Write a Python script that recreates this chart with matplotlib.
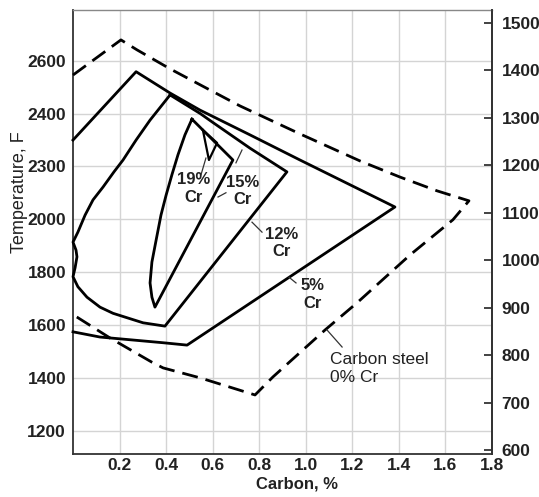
import matplotlib
matplotlib.use("Agg")
import matplotlib.pyplot as plt

# ---- data: carbon (%) vs temperature (deg C) ----
steel_c = [0.0, 0.206, 0.275, 0.417, 0.717, 0.975, 1.233, 1.405, 1.564, 1.701,
           1.632, 1.448, 1.220, 1.083, 0.859, 0.782, 0.546, 0.387, 0.339, 0.159, 0.017, 0.0]
steel_t = [1390, 1464, 1443, 1403, 1325, 1266, 1209, 1175, 1146, 1125,
           1085, 1011, 910, 853, 754, 716, 752, 773, 785, 836, 880, 885]

cr5_c = [0.0, 0.271, 0.417, 0.546, 0.760, 0.975, 1.383, 0.490, 0.387, 0.116, 0.0]
cr5_t = [1253, 1397, 1352, 1316, 1264, 1211, 1112, 821, 826, 838, 849]

cr12_c = [0.417, 0.331, 0.271, 0.215, 0.176, 0.129, 0.086, 0.052, 0.021, 0.0, 0.013, 0.017, 0.009, 0.0,
          0.021, 0.060, 0.116, 0.172, 0.301, 0.395, 0.919, 0.760, 0.601, 0.546, 0.417]
cr12_t = [1348, 1295, 1253, 1211, 1186, 1154, 1127, 1095, 1059, 1038, 1021, 1007, 984, 965,
          944, 922, 901, 888, 868, 861, 1186, 1236, 1290, 1309, 1348]

cr15_c = [0.511, 0.481, 0.451, 0.425, 0.400, 0.378, 0.357, 0.339, 0.331, 0.339, 0.352, 0.687, 0.511]
cr15_t = [1297, 1264, 1222, 1180, 1137, 1095, 1042, 996, 952, 922, 901, 1211, 1297]

cr19_c = [0.558, 0.584, 0.619, 0.558]
cr19_t = [1274, 1211, 1247, 1274]

# axis ticks
x_ticks = [0.2, 0.4, 0.6, 0.8, 1.0, 1.2, 1.4, 1.6, 1.8]
x_labels = ["0.2", "0.4", "0.6", "0.8", "1.0", "1.2", "1.4", "1.6", "1.8"]
left_ticks_f = [2600, 2400, 2200, 2000, 1800, 1600, 1400, 1200]
left_labels = ["2600", "2400", "2300", "2000", "1800", "1600", "1400", "1200"]
right_ticks_c = [600, 700, 800, 900, 1000, 1100, 1200, 1300, 1400, 1500]
right_labels = ["600", "700", "800", "900", "1000", "1100", "1200", "1300", "1400", "1500"]

# annotations
cr_labels = [("19%", 0.520, 1169), ("Cr", 0.520, 1131),
             ("15%", 0.730, 1163), ("Cr", 0.730, 1127),
             ("12%", 0.898, 1053), ("Cr", 0.894, 1019),
             ("5%", 1.027, 946), ("Cr", 1.031, 908)]
steel_labels = [("Carbon steel", 1.104, 790), ("0% Cr", 1.104, 752)]
leaders = [(0.550, 1180, 0.571, 1215),
           (0.623, 1133, 0.657, 1142),
           (0.700, 1205, 0.726, 1232),
           (0.769, 1080, 0.812, 1059),
           (0.928, 964, 0.958, 952),
           (1.091, 853, 1.156, 817)]

plt.rcParams["font.family"] = ["Liberation Sans", "DejaVu Sans"]

fig = plt.figure(figsize=(5.39, 4.97), dpi=100)
ax = fig.add_axes([73 / 539, 43 / 497, 419 / 539, 444 / 497])
ax.set_xlim(0, 1.8)
ax.set_ylim(1114, 2791)
ax.set_xticks(x_ticks)
ax.set_xticklabels(x_labels, fontsize=12.5, fontweight="bold", color="#222222")
ax.set_yticks(left_ticks_f)
ax.set_yticklabels(left_labels, fontsize=12.5, fontweight="bold", color="#222222")
ax.tick_params(axis="both", length=0)
ax.tick_params(axis="x", pad=3)
ax.tick_params(axis="y", pad=5)
ax.grid(True, color="#d4d4d4", linewidth=1.0)
ax.set_axisbelow(True)
for side in ["left", "bottom", "right"]:
    ax.spines[side].set_color("#333333")
    ax.spines[side].set_linewidth(1.3)
ax.spines["top"].set_color("#888888")
ax.spines["top"].set_linewidth(1.0)

ax2 = ax.twinx()
ax2.set_ylim(591.6, 1527)
ax2.set_yticks(right_ticks_c)
ax2.set_yticklabels(right_labels, fontsize=12.5, fontweight="bold", color="#222222")
ax2.tick_params(axis="y", direction="in", length=6, width=1.2, pad=7, colors="#222222")
ax2.spines["right"].set_color("#333333")
ax2.spines["right"].set_linewidth(1.3)
for side in ["left", "bottom", "top"]:
    ax2.spines[side].set_visible(False)

lw = 2.0
ax2.plot(steel_c, steel_t, color="black", lw=lw, dashes=(5.75, 2.9), clip_on=False)
ax2.plot(cr5_c, cr5_t, color="black", lw=lw, clip_on=False)
ax2.plot(cr12_c, cr12_t, color="black", lw=lw, clip_on=False)
ax2.plot(cr15_c, cr15_t, color="black", lw=lw, clip_on=False)
ax2.plot(cr19_c, cr19_t, color="black", lw=1.6, clip_on=False)

for x0, y0, x1, y1 in leaders:
    ax2.plot([x0, x1], [y0, y1], color="#333333", lw=0.9)

for txt, x, y in cr_labels:
    ax2.text(x, y, txt, ha="center", va="center", fontsize=12, fontweight="bold", color="#222222")
for txt, x, y in steel_labels:
    ax2.text(x, y, txt, ha="left", va="center", fontsize=12.5, color="#222222")

fig.text(297 / 539, 1 - 484 / 497, "Carbon, %", ha="center", va="center",
         fontsize=12, fontweight="bold", color="#222222")
fig.text(20 / 539, 1 - 192 / 497, "Temperature, F", ha="center", va="center", rotation=90,
         fontsize=13, color="#222222")

fig.savefig("out.png", dpi=100)
